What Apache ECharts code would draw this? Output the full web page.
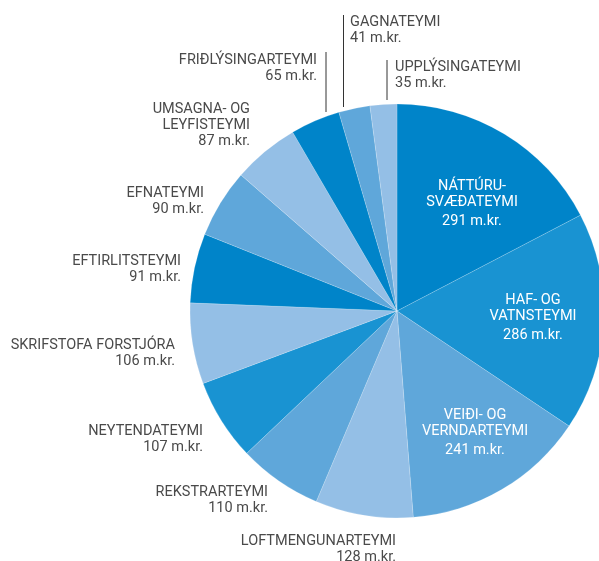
<!DOCTYPE html>
<html><head><meta charset="utf-8">
<script src="https://cdn.jsdelivr.net/npm/echarts@6/dist/echarts.min.js"></script>
<style>html,body{margin:0;padding:0;background:#fff}#c{width:599px;height:561px}</style>
</head><body><div id="c"></div>
<script>
const categories = ["NÁTTÚRU-\nSVÆÐATEYMI","HAF- OG\nVATNSTEYMI","VEIÐI- OG\nVERNDARTEYMI","LOFTMENGUNARTEYMI","REKSTRARTEYMI","NEYTENDATEYMI","SKRIFSTOFA FORSTJÓRA","EFTIRLITSTEYMI","EFNATEYMI","UMSAGNA- OG\nLEYFISTEYMI","FRIÐLÝSINGARTEYMI","GAGNATEYMI","UPPLÝSINGATEYMI"];
const values = [291,286,241,128,110,107,106,91,90,87,65,41,35];
const unit = "m.kr.";
const colors = ["#0084c9","#1993d2","#5fa7da","#94bfe6","#5fa7da","#1993d2","#94bfe6","#0084c9","#5fa7da","#94bfe6","#0084c9","#5fa7da","#94bfe6"];
// label anchor positions (x, y of first line, align)
const labelPos = [
  [472,179,'center',true],[533,293,'center',true],[475,408,'center',true],
  [396,533,'right'],[268,484,'right'],[203,423,'right'],[175,337,'right'],
  [181,253,'right'],[204,185,'right'],[250,101,'right'],[317,52,'right'],
  [350,14,'left'],[395,59,'left']
];
const font = 'Roboto, "DejaVu Sans", sans-serif';
const chart = echarts.init(document.getElementById('c'));
chart.setOption({
  animation:false,
  series:[{
    type:'pie', center:[397,311], radius:[0,207], startAngle:90, clockwise:true,
    avoidLabelOverlap:false,
    itemStyle:{borderColor:'rgba(255,255,255,0.35)',borderWidth:0.5},
    labelLine:{show:false},
    data: categories.map((n,i)=>({name:n,value:values[i],itemStyle:{color:colors[i]},
      label: labelPos[i][3] ? {
        formatter: n.split('\n').map(s=>'{n|'+s+'}').join('\n')+'\n{v|'+values[i]+' '+unit+'}',
        rich:{n:{color:'#fff',fontSize:14.5,fontFamily:font,lineHeight:15.5,align:'center'},
              v:{color:'#fff',fontSize:14.5,fontFamily:font,lineHeight:15.5,padding:[7,0,0,0],align:'center'}}
      } : {
        formatter: n+'\n'+values[i]+' '+unit,
        color:'#4a4a4a', fontSize:14.5, fontFamily:font, lineHeight:16, align:labelPos[i][2]
      }
    })),
    label:{show:true, position:'outside'}
  }],
  graphic:[
    {type:'line',shape:{x1:326,y1:52,x2:326,y2:112},style:{stroke:'#333',lineWidth:1}},
    {type:'line',shape:{x1:343.5,y1:15,x2:343.5,y2:107},style:{stroke:'#333',lineWidth:1}},
    {type:'line',shape:{x1:387,y1:60,x2:387,y2:100},style:{stroke:'#333',lineWidth:1}}
  ]
});
chart.setOption({series:[{labelLayout:function(p){
  const L = labelPos[p.dataIndex];
  return {x:L[0], y:L[1], align:L[2], verticalAlign:'top', hideOverlap:false, moveOverlap:false};
}}]});
</script></body></html>
